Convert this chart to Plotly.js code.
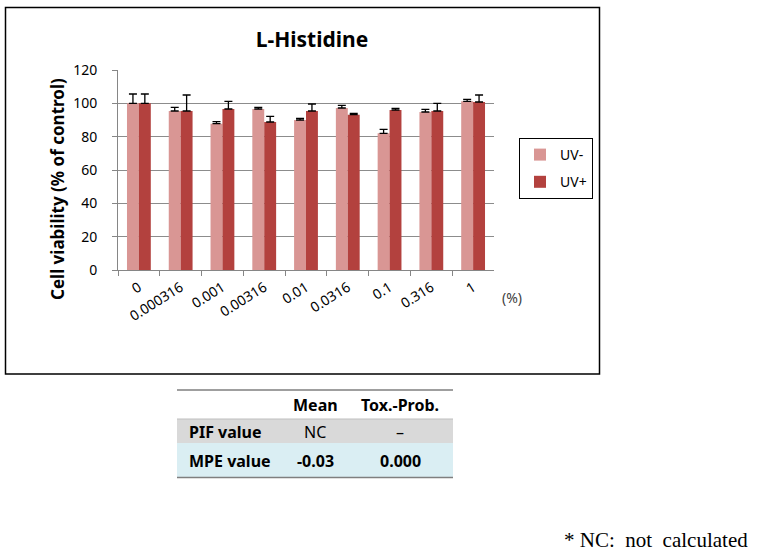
<!DOCTYPE html>
<html>
<head>
<meta charset="utf-8">
<script src="https://cdn.plot.ly/plotly-3.0.1.min.js"></script>
<style>html,body{margin:0;padding:0;background:#fff;}#chart{width:773px;height:553px;}</style>
</head>
<body>
<div id="chart"></div>
<script>
// ---- data ----
const categories = ["0", "0.000316", "0.001", "0.00316", "0.01", "0.0316", "0.1", "0.316", "1"];
const uvMinus = [100, 95.4, 87.8, 96.6, 90, 97.2, 82, 94.8, 101.2];
const uvMinusErr = [5.6, 2.2, 1.2, 1.0, 1.0, 1.6, 2.4, 1.6, 1.2];
const uvPlus = [100, 95.4, 96.6, 88.8, 95.4, 93.2, 96, 95.4, 100.8];
const uvPlusErr = [5.6, 9.6, 4.6, 3.4, 4.2, 0.8, 1.0, 4.6, 4.2];
const seriesNames = ["UV-", "UV+"];
const yTicks = [0, 20, 40, 60, 80, 100, 120];

const tableHeader = ["", "Mean", "Tox.-Prob."];
const tableRowLabels = ["PIF value", "MPE value"];
const tableMean = ["NC", "-0.03"];
const tableTox = ["\u2013", "0.000"];

// ---- helpers: pixel to paper ----
const W = 773, H = 553;
const px = x => x / W;
const py = y => 1 - y / H;

const colMinus = "#D99694";
const colPlus = "#B3413E";
const font = "'Noto Sans', 'DejaVu Sans', sans-serif";

const traces = [
  {
    type: "bar", name: seriesNames[0], x: categories, y: uvMinus,
    marker: {color: colMinus}, legendgroup: "a",
    error_y: {type: "data", symmetric: false, array: uvMinusErr, arrayminus: uvMinusErr.map(() => 0),
              color: "#000", thickness: 1.3, width: 4}
  },
  {
    type: "bar", name: seriesNames[1], x: categories, y: uvPlus,
    marker: {color: colPlus}, legendgroup: "b",
    error_y: {type: "data", symmetric: false, array: uvPlusErr, arrayminus: uvPlusErr.map(() => 0),
              color: "#000", thickness: 1.3, width: 4}
  }
];

const shapes = [
  {type: "rect", xref: "paper", yref: "paper", x0: px(5.5), x1: px(599.5), y0: py(7.5), y1: py(374),
   line: {color: "#000", width: 1.5}},
  {type: "rect", xref: "paper", yref: "paper", x0: px(177), x1: px(453), y0: py(419), y1: py(443),
   fillcolor: "#D9D9D9", line: {width: 0}, layer: "below"},
  {type: "rect", xref: "paper", yref: "paper", x0: px(177), x1: px(453), y0: py(443), y1: py(477),
   fillcolor: "#DAEEF3", line: {width: 0}, layer: "below"},
  {type: "line", xref: "paper", yref: "paper", x0: px(177), x1: px(453), y0: py(390), y1: py(390),
   line: {color: "#7F7F7F", width: 1.5}},
  {type: "line", xref: "paper", yref: "paper", x0: px(177), x1: px(453), y0: py(419), y1: py(419),
   line: {color: "#BFBFBF", width: 1}},
  {type: "line", xref: "paper", yref: "paper", x0: px(177), x1: px(453), y0: py(477.5), y1: py(477.5),
   line: {color: "#7F7F7F", width: 1.5}}
];

const ann = (text, x, y, size, opts) => Object.assign({
  text: text, xref: "paper", yref: "paper", x: px(x), y: py(y), showarrow: false,
  xanchor: "center", yanchor: "middle", font: {family: font, size: size, color: "#000"}
}, opts || {});

const annotations = [
  ann("<b>Cell viability (% of control)</b>", 57, 189, 17, {textangle: -90}),
  ann("(%)", 512, 297, 14, {font: {family: font, size: 14, color: "#404040"}}),
  ann("* NC:  not  calculated", 750, 540, 21, {xanchor: "right",
      font: {family: "'Liberation Serif', 'DejaVu Serif', serif", size: 21, color: "#000"}})
];

const colX = [187, 315, 400];
tableHeader.forEach((t, i) => {
  if (!t) return;
  annotations.push(ann("<b>" + t + "</b>", colX[i], 405, 16));
});
const rowY = [432, 461];
tableRowLabels.forEach((t, r) => {
  annotations.push(ann("<b>" + t + "</b>", colX[0], rowY[r], 16, {xanchor: "left"}));
  const bold = r === 1;
  annotations.push(ann(bold ? "<b>" + tableMean[r] + "</b>" : tableMean[r], colX[1], rowY[r], 16));
  annotations.push(ann(bold ? "<b>" + tableTox[r] + "</b>" : tableTox[r], colX[2], rowY[r], 16));
});

const layout = {
  width: W, height: H,
  margin: {l: 0, r: 0, t: 0, b: 0},
  paper_bgcolor: "#fff", plot_bgcolor: "#fff",
  font: {family: font, color: "#000"},
  title: {text: "<b>L-Histidine</b>", x: px(312), xanchor: "center", y: py(40), yanchor: "middle",
          font: {family: font, size: 21, color: "#000"}},
  barmode: "group", bargap: 0.43, bargroupgap: 0,
  xaxis: {
    domain: [px(118), px(494)], type: "category",
    tickangle: -32, tickson: "boundaries", ticks: "outside", ticklen: 5, tickcolor: "#868686",
    showline: true, linecolor: "#868686", linewidth: 1, showgrid: false,
    tickfont: {family: font, size: 14, color: "#000"}, ticklabelstandoff: 3
  },
  yaxis: {
    domain: [py(270), py(70)], range: [0, 120], tickvals: yTicks,
    ticks: "outside", ticklen: 5, tickcolor: "#868686",
    showline: true, linecolor: "#868686", linewidth: 1,
    showgrid: true, gridcolor: "#8C8C8C", gridwidth: 1, zeroline: false,
    tickfont: {family: font, size: 14, color: "#000"}, ticklabelstandoff: 12
  },
  legend: {
    x: px(519), y: py(138), xanchor: "left", yanchor: "top",
    bordercolor: "#000", borderwidth: 1, bgcolor: "#fff",
    font: {family: font, size: 14, color: "#000"},
    traceorder: "grouped", tracegroupgap: 6
  },
  showlegend: true,
  shapes: shapes,
  annotations: annotations
};

Plotly.newPlot("chart", traces, layout, {displayModeBar: false, staticPlot: true});
</script>
</body>
</html>
